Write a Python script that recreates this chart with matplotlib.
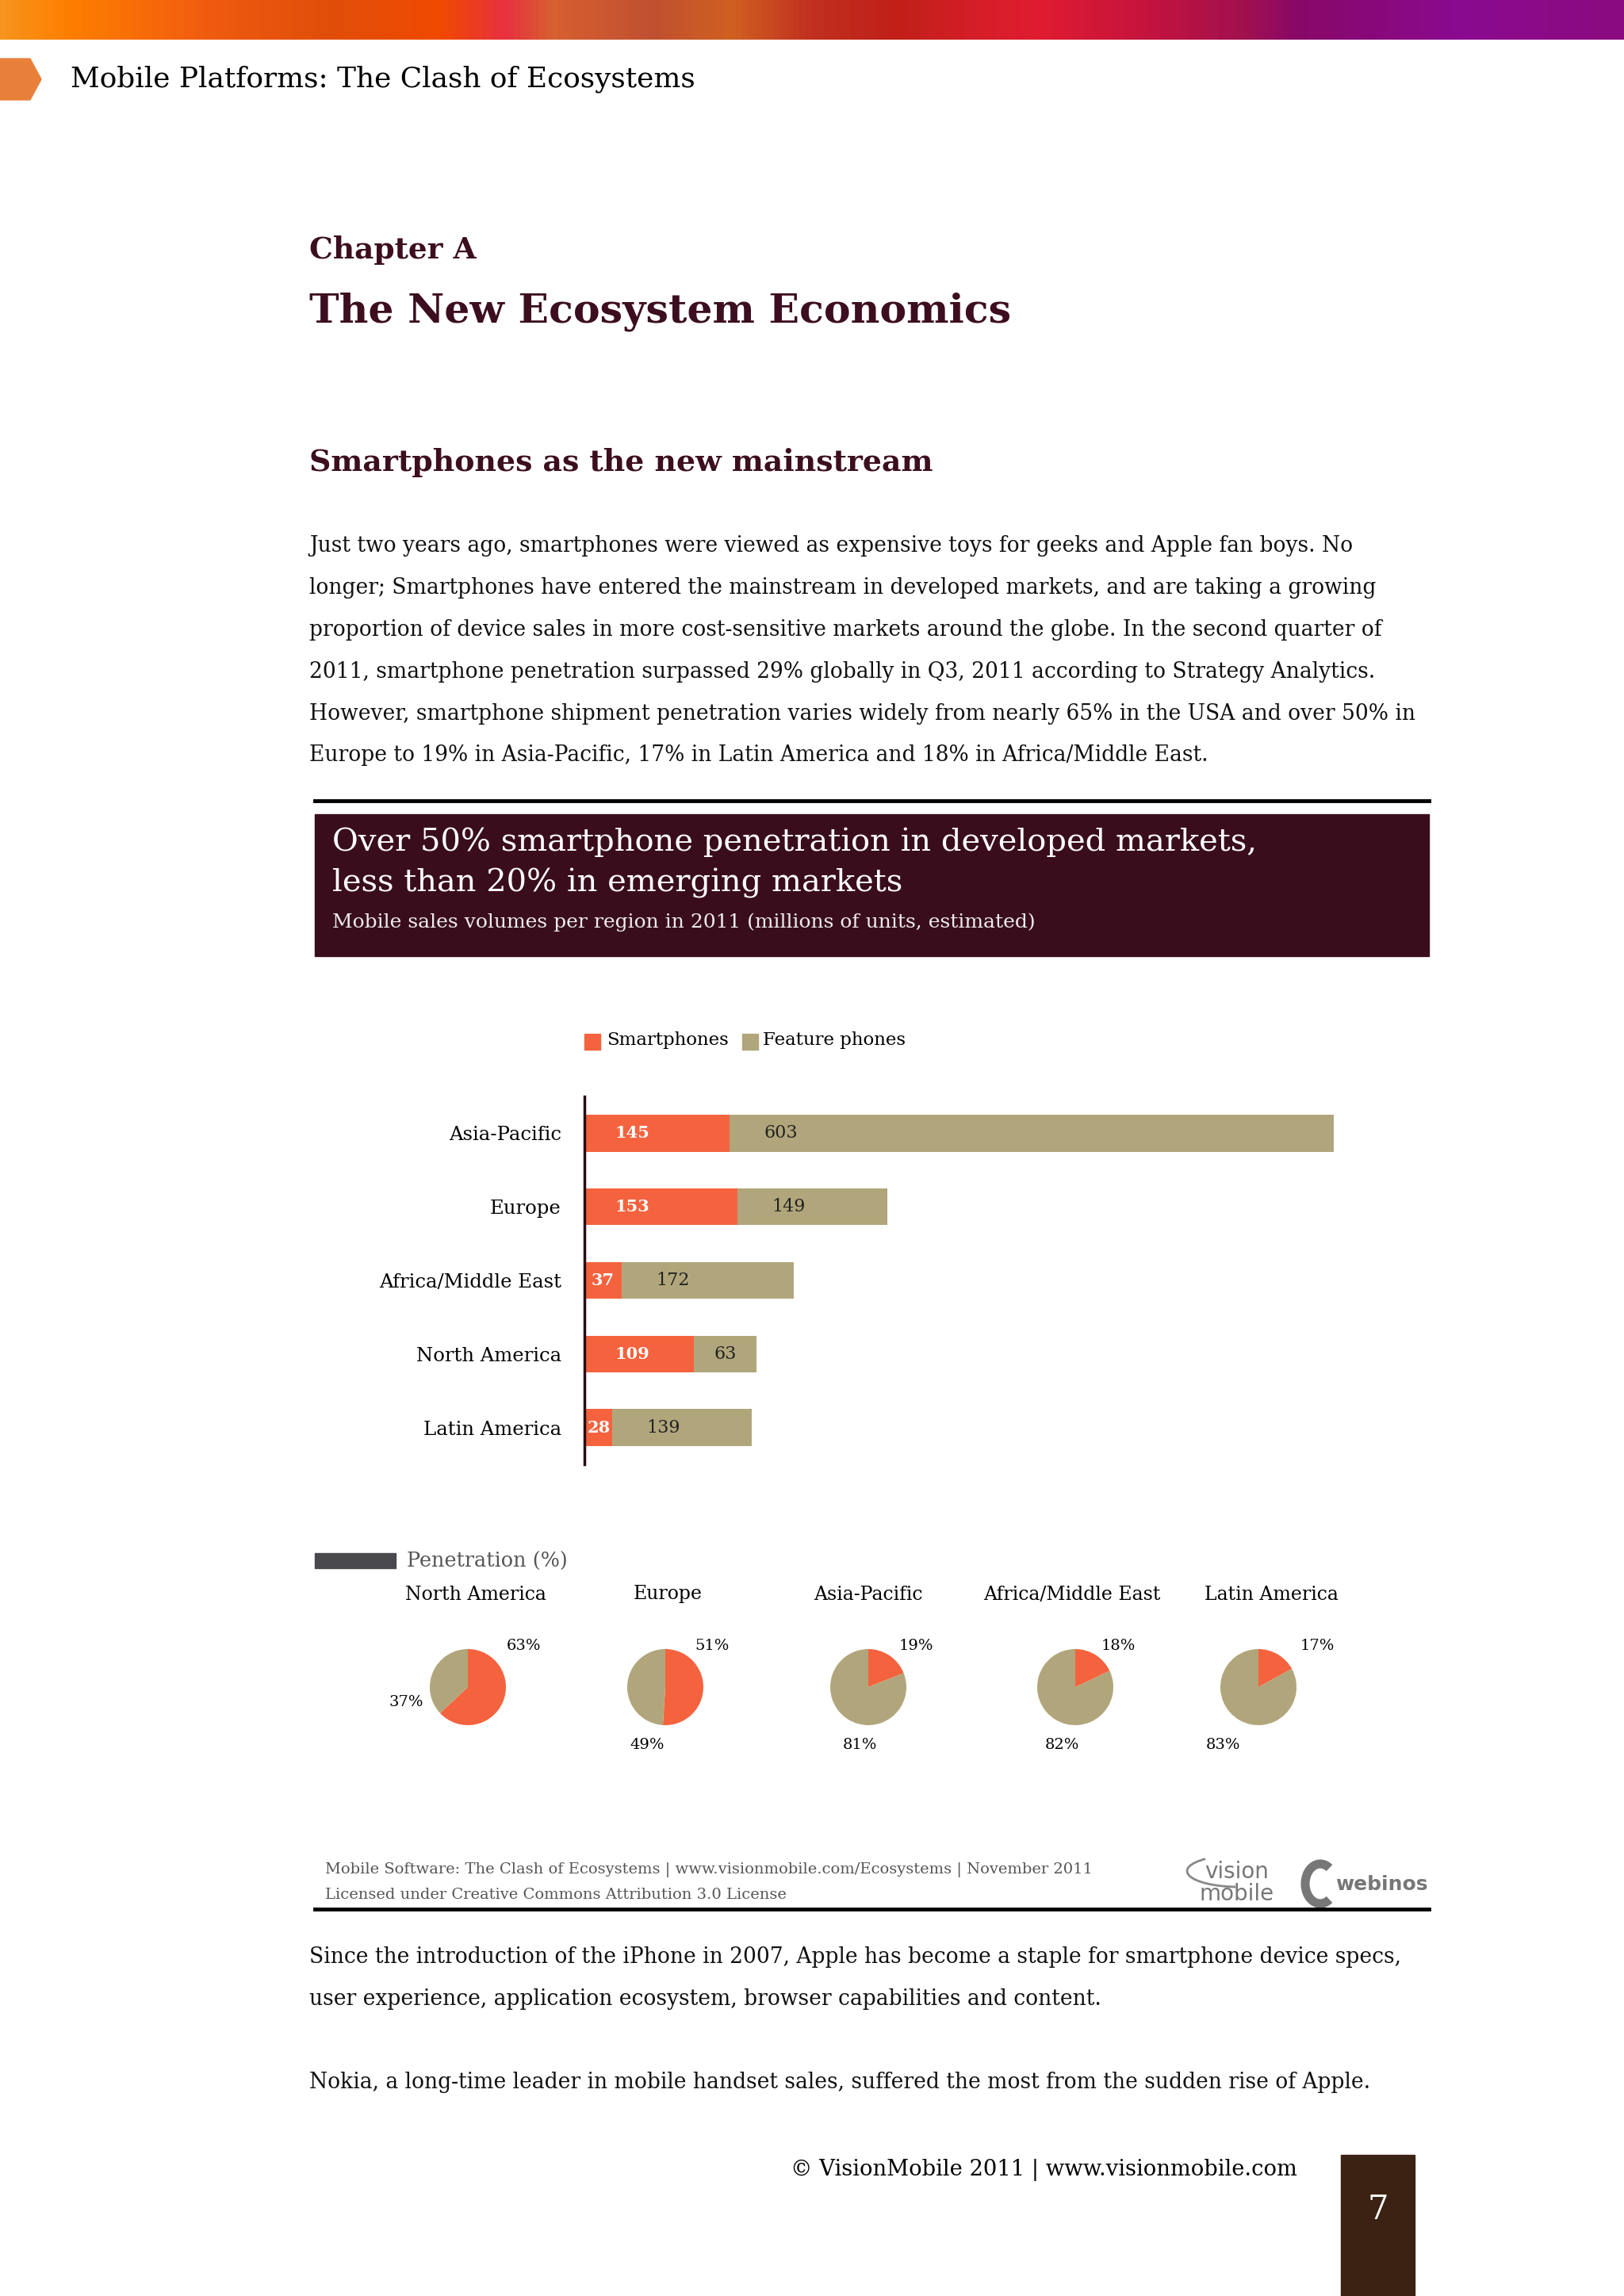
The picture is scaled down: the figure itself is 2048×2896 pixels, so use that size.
import numpy as np
import matplotlib
matplotlib.use("Agg")
import matplotlib.pyplot as plt
from matplotlib.colors import LinearSegmentedColormap
from matplotlib.patches import Rectangle, Polygon, Arc

# page size in pixels
W = 2048
H = 2896

# data
regions = ['Asia-Pacific', 'Europe', 'Africa/Middle East', 'North America', 'Latin America']
smartphones = [145, 153, 37, 109, 28]
feature_phones = [603, 149, 172, 63, 139]

pie_regions = ['North America', 'Europe', 'Asia-Pacific', 'Africa/Middle East', 'Latin America']
pie_smart = [63, 51, 19, 18, 17]
pie_feature = [37, 49, 81, 82, 83]

body1 = [
    "Just two years ago, smartphones were viewed as expensive toys for geeks and Apple fan boys. No",
    "longer; Smartphones have entered the mainstream in developed markets, and are taking a growing",
    "proportion of device sales in more cost-sensitive markets around the globe. In the second quarter of",
    "2011, smartphone penetration surpassed 29% globally in Q3, 2011 according to Strategy Analytics.",
    "However, smartphone shipment penetration varies widely from nearly 65% in the USA and over 50% in",
    "Europe to 19% in Asia-Pacific, 17% in Latin America and 18% in Africa/Middle East.",
]
body2 = [
    "Since the introduction of the iPhone in 2007, Apple has become a staple for smartphone device specs,",
    "user experience, application ecosystem, browser capabilities and content.",
]
body3 = "Nokia, a long-time leader in mobile handset sales, suffered the most from the sudden rise of Apple."

# colours
orange = '#f4633e'
khaki = '#b1a67b'
maroon = '#3c0e1f'
boxcol = '#3a0d1d'

plt.rcParams['font.family'] = ['DejaVu Serif']


def px_rect(x, y, w, h):
    return [x / W, 1 - (y + h) / H, w / W, h / H]


fig = plt.figure(figsize=(W / 100, H / 100), dpi=100)
fig.patch.set_facecolor('white')

# page overlay in pixel coordinates
ax0 = fig.add_axes([0, 0, 1, 1])
ax0.axis('off')

# top gradient strip
stops = [(0.00, '#f7941d'), (0.04, '#ff7f00'), (0.13, '#f05a10'), (0.20, '#e04e0a'),
         (0.27, '#f04a00'), (0.31, '#e83040'), (0.34, '#d86030'), (0.40, '#c05030'),
         (0.45, '#d06020'), (0.50, '#c03020'), (0.55, '#c02018'), (0.61, '#d81e2a'),
         (0.64, '#e01c30'), (0.70, '#c8143c'), (0.77, '#a01050'), (0.80, '#880868'),
         (0.90, '#8a0a90'), (1.00, '#8a0a80')]
cmap = LinearSegmentedColormap.from_list('strip', stops)
ax0.imshow(np.linspace(0, 1, 512).reshape(1, -1), cmap=cmap, aspect='auto',
           extent=[0, W, 50, 0], zorder=1)
ax0.set_xlim(0, W)
ax0.set_ylim(H, 0)

# header
ax0.add_patch(Polygon([(0, 74), (38, 74), (52, 100), (38, 126), (0, 126)], color='#e8803a'))
ax0.text(89, 100, "Mobile Platforms: The Clash of Ecosystems", fontsize=25.8, va='center', color='black')

# titles
ax0.text(390, 316, "Chapter A", fontsize=27, weight='bold', color=maroon, va='center')
ax0.text(390, 393, "The New Ecosystem Economics", fontsize=36.4, weight='bold', color=maroon, va='center')
ax0.text(390, 584, "Smartphones as the new mainstream", fontsize=27.3, weight='bold', color=maroon, va='center')

for i, line in enumerate(body1):
    ax0.text(390, 689 + i * 52.8, line, fontsize=19.1, va='center', color='#111111')

# chart header box
ax0.plot([397, 1802], [1010, 1010], color='black', lw=3.5)
ax0.add_patch(Rectangle((397, 1027), 1405, 179, color=boxcol))
ax0.text(419, 1062, "Over 50% smartphone penetration in developed markets,", fontsize=28.8,
         color='white', va='center')
ax0.text(419, 1114, "less than 20% in emerging markets", fontsize=28.8, color='white', va='center')
ax0.text(419, 1163, "Mobile sales volumes per region in 2011 (millions of units, estimated)",
         fontsize=18, color='#eeeeee', va='center')

# legend
ax0.add_patch(Rectangle((737, 1304), 20, 20, color=orange))
ax0.text(765, 1312, "Smartphones", fontsize=16.5, va='center')
ax0.add_patch(Rectangle((936, 1304), 20, 20, color=khaki))
ax0.text(962, 1312, "Feature phones", fontsize=16.5, va='center')

# stacked bars
axb = fig.add_axes(px_rect(737, 1383, 1011, 464))
axb.patch.set_alpha(0)
y = np.arange(len(regions))
axb.barh(y, smartphones, height=0.5, color=orange)
axb.barh(y, feature_phones, left=smartphones, height=0.5, color=khaki)
axb.set_xlim(0, 800)
axb.set_ylim(4.5, -0.5)
for s in ['top', 'right', 'bottom']:
    axb.spines[s].set_visible(False)
axb.spines['left'].set_color('#2a0a14')
axb.spines['left'].set_linewidth(2.5)
axb.set_xticks([])
axb.set_yticks(y)
axb.set_yticklabels(regions, fontsize=17.5)
axb.tick_params(axis='y', length=0, pad=21)
for i in range(len(regions)):
    s = smartphones[i]
    f = feature_phones[i]
    axb.text(min(s / 2, 48), i, str(s), ha='center', va='center', color='white',
             weight='bold', fontsize=15)
    axb.text(s + min(f / 2, 51), i, str(f), ha='center', va='center', color='#222222',
             fontsize=16)

# penetration pies
ax0.add_patch(Rectangle((397, 1959), 102, 19, color='#4a4a4e'))
ax0.text(513, 1969, "Penetration (%)", fontsize=18.4, va='center', color='#555555')

pie_cx = [590, 839, 1095, 1356, 1587]
title_cx = [600, 842, 1095, 1352, 1603]
smart_off = [(70, -52), (59, -52), (60, -52), (54, -52), (74, -52)]
feat_off = [(-78, 19), (-23, 73), (-11, 73), (-17, 73), (-45, 73)]
r = 48
box = 300
for i in range(len(pie_regions)):
    ax0.text(title_cx[i], 2011, pie_regions[i], fontsize=17, ha='center', va='center')
    axp = fig.add_axes(px_rect(pie_cx[i] - box / 2, 2128 - box / 2, box, box))
    axp.pie([pie_smart[i], pie_feature[i]], colors=[orange, khaki], startangle=90,
            counterclock=False, radius=1)
    axp.set_xlim(-box / 2 / r, box / 2 / r)
    axp.set_ylim(-box / 2 / r, box / 2 / r)
    axp.set_aspect('equal')
    axp.axis('off')
    axp.text(smart_off[i][0] / r, -smart_off[i][1] / r, "%d%%" % pie_smart[i],
             ha='center', va='center', fontsize=14)
    axp.text(feat_off[i][0] / r, -feat_off[i][1] / r, "%d%%" % pie_feature[i],
             ha='center', va='center', fontsize=14)

# chart footer
ax0.text(410, 2358, "Mobile Software: The Clash of Ecosystems | www.visionmobile.com/Ecosystems | November 2011",
         fontsize=14, color='#555555', va='center')
ax0.text(410, 2390, "Licensed under Creative Commons Attribution 3.0 License",
         fontsize=14, color='#555555', va='center')
ax0.text(1560, 2361, "vision", fontsize=20, color='#777777', ha='center', va='center',
         family='DejaVu Sans')
ax0.text(1560, 2389, "mobile", fontsize=20, color='#777777', ha='center', va='center',
         family='DejaVu Sans')
ax0.add_patch(Arc((1562, 2360), 130, 40, theta1=100, theta2=200, color='#888888', lw=2))
ax0.add_patch(Arc((1665, 2376), 38, 50, theta1=60, theta2=300, color='#777777', lw=8))
ax0.text(1684, 2377, "webinos", fontsize=18, color='#777777', weight='bold', va='center',
         family='DejaVu Sans')
ax0.plot([397, 1802], [2408, 2408], color='black', lw=3.5)

# text after chart
for i, line in enumerate(body2):
    ax0.text(390, 2469 + i * 52.8, line, fontsize=19.1, va='center', color='#111111')
ax0.text(390, 2626, body3, fontsize=19.1, va='center', color='#111111')

# page footer
ax0.text(997, 2737, "\u00a9 VisionMobile 2011 | www.visionmobile.com", fontsize=19.7, va='center')
ax0.add_patch(Rectangle((1691, 2718), 93, 178, color='#3b2212'))
ax0.text(1738, 2787, "7", fontsize=30, color='white', ha='center', va='center')

fig.savefig('out.png', dpi=100, facecolor='white')
